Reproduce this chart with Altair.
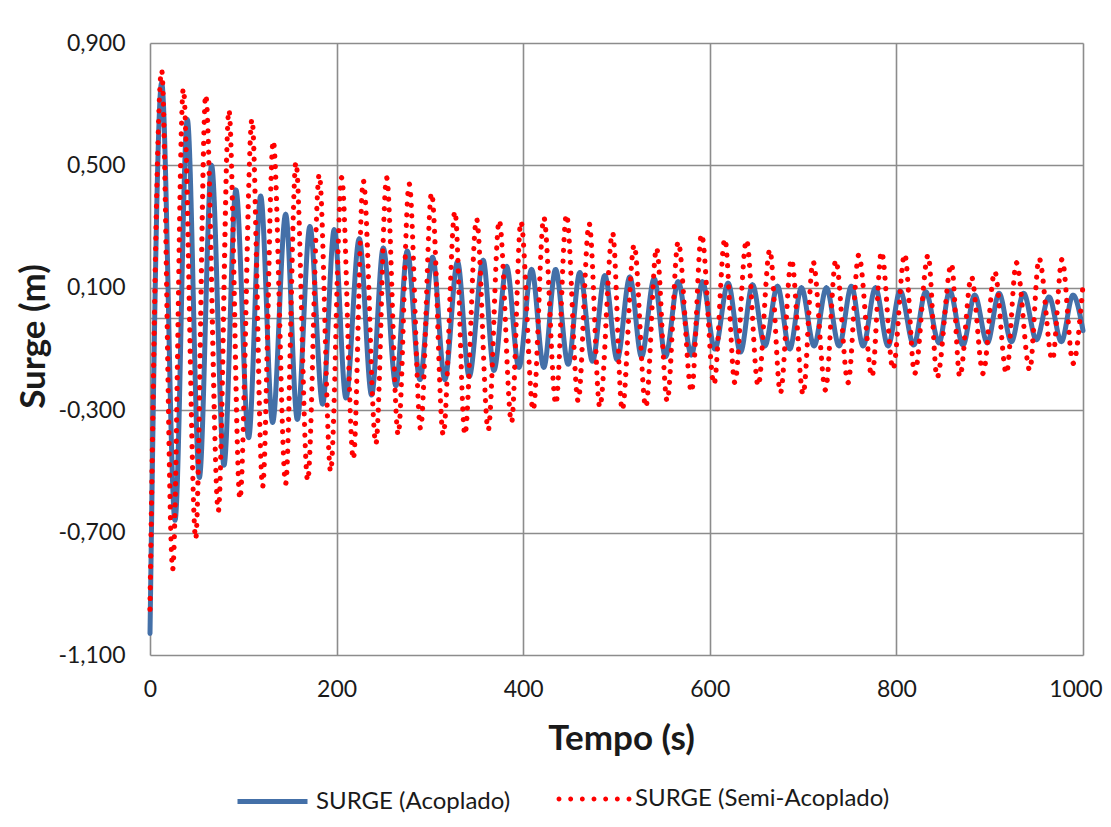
import altair as alt
import pandas as pd

# ---- data (local extrema of each series) ----
blue_t = [0, 12.5, 26.8, 40, 52.9, 66, 79.3, 92.1, 105.7, 118.6, 131.4, 145.4, 157.9, 171.4,
          185, 197.5, 210, 224.3, 237.5, 250, 263.6, 275.7, 289.3, 302.9, 316, 329.6, 342.1,
          357.1, 368.6, 382.2, 395.4, 409, 422.1, 434.7, 448.2, 460.7, 474.3, 487.5, 500.7,
          514.3, 526.8, 540.4, 552.5, 566.1, 580.4, 592.1, 605.4, 619.6, 632.9, 645.8, 659,
          672.5, 685.7, 698.2, 711.8, 725, 738.6, 751.8, 764.3, 777.5, 791.1, 804, 818.6,
          831.4, 845.7, 857.1, 871.4, 883.9, 897.5, 910, 923.2, 936.4, 950, 963.6, 976.8,
          989.3, 1000]
blue_v = [-1.03, 0.77, -0.66, 0.65, -0.52, 0.50, -0.48, 0.42, -0.39, 0.40, -0.34, 0.34, -0.33,
          0.30, -0.28, 0.29, -0.26, 0.26, -0.25, 0.23, -0.22, 0.22, -0.20, 0.20, -0.20, 0.185,
          -0.19, 0.19, -0.17, 0.17, -0.16, 0.16, -0.16, 0.16, -0.15, 0.15, -0.14, 0.14, -0.135,
          0.135, -0.125, 0.13, -0.125, 0.12, -0.12, 0.12, -0.10, 0.115, -0.11, 0.11, -0.09,
          0.105, -0.10, 0.10, -0.09, 0.10, -0.09, 0.105, -0.09, 0.10, -0.09, 0.09, -0.087,
          0.087, -0.08, 0.09, -0.087, 0.076, -0.08, 0.082, -0.076, 0.082, -0.07, 0.07, -0.076,
          0.076, -0.04]

red_t = [0, 12.5, 24.3, 35.7, 49, 59.7, 73.2, 84.6, 96.4, 109.3, 120.7, 132.1, 145.4, 156.4,
         169, 181.4, 193.6, 205.4, 217.9, 228.6, 242.1, 253.6, 266, 277.8, 290, 301.8, 314.3,
         326.8, 337.5, 350, 362.5, 374.3, 387.5, 397.5, 410.7, 422.1, 435, 446.4, 458.9, 470.7,
         482.1, 495.8, 506.1, 518.9, 531.4, 542.9, 554.3, 566.1, 580.4, 591.1, 604.5, 616.1,
         626.8, 639.3, 651.8, 664.3, 675.7, 687.5, 700, 710.7, 724, 735, 748.2, 759.6, 773.9,
         784, 796.4, 808.9, 819.6, 834, 843.6, 859, 867.9, 880.4, 892.9, 905.4, 917.9, 928.6,
         942.9, 952.9, 967.2, 977.5, 989.3, 1000]
red_v = [-0.95, 0.81, -0.82, 0.75, -0.72, 0.73, -0.63, 0.68, -0.59, 0.65, -0.55, 0.58, -0.54,
         0.51, -0.53, 0.47, -0.50, 0.46, -0.46, 0.45, -0.41, 0.46, -0.38, 0.44, -0.36, 0.41,
         -0.38, 0.35, -0.38, 0.325, -0.365, 0.32, -0.34, 0.316, -0.30, 0.33, -0.28, 0.34, -0.27,
         0.31, -0.29, 0.28, -0.30, 0.24, -0.29, 0.23, -0.27, 0.25, -0.24, 0.275, -0.215, 0.26,
         -0.21, 0.256, -0.22, 0.224, -0.243, 0.193, -0.248, 0.185, -0.234, 0.19, -0.21, 0.207,
         -0.19, 0.218, -0.166, 0.21, -0.18, 0.207, -0.193, 0.178, -0.19, 0.136, -0.18, 0.153,
         -0.18, 0.182, -0.169, 0.196, -0.136, 0.193, -0.147, 0.11]

series = ["SURGE (Acoplado)", "SURGE (Semi-Acoplado)"]
x_ticks = [0, 200, 400, 600, 800, 1000]
y_ticks = [-1.1, -0.7, -0.3, 0.0, 0.1, 0.5, 0.9]

df = pd.concat([
    pd.DataFrame({"t": blue_t, "v": blue_v, "serie": series[0]}),
    pd.DataFrame({"t": red_t, "v": red_v, "serie": series[1]}),
], ignore_index=True)

FONT = "Lato"
GRID = "#8c8c8c"
BLUE = "#4470A8"
RED = "#FF0000"
TXT = "#1a1a1a"

# legend symbol for the dotted series: a row of 7 small round dots (unit box -1..1)
r = 0.07
dots_path = "".join(
    f"M{-1 + k / 3 - r:.4f},0a{r},{r} 0 1,0 {2 * r},0a{r},{r} 0 1,0 {-2 * r},0Z"
    for k in range(7)
)

common_leg = dict(orient="none", direction="horizontal", symbolSize=4900,
                  labelFont=FONT, labelFontSize=24, labelColor=TXT, labelOffset=6,
                  padding=0, labelLimit=400)

x_enc = alt.X("t:Q", scale=alt.Scale(domain=[0, 1000], nice=False, zero=False),
              axis=alt.Axis(values=x_ticks, title="Tempo (s)", labelPadding=23,
                            labelExpr="format(datum.value, 'd')",
                            labelAlign={"condition": {"test": "datum.value == 1000", "value": "right"}, "value": "center"},
                            labelOffset={"condition": {"test": "datum.value == 1000", "value": 19}, "value": 0},
                            titlePadding=20, titleX=471))
y_enc = alt.Y("v:Q", scale=alt.Scale(domain=[-1.1, 0.9], nice=False, zero=False),
              axis=alt.Axis(values=y_ticks, title="Surge (m)", labelPadding=25,
                            labelExpr="datum.value == 0 ? '' : (datum.value < 0 ? '-' : '') + replace(format(abs(datum.value), '.3f'), '.', ',')",
                            titleAngle=270, titleX=-117, titleY=293,
                            titleAlign="center", titleBaseline="middle"))

base = alt.Chart(df)

lines = base.mark_line(
    interpolate="monotone", strokeCap="round", strokeJoin="round"
).encode(
    x=x_enc, y=y_enc,
    color=alt.Color("serie:N", scale=alt.Scale(domain=series, range=[BLUE, RED]), legend=None),
    strokeDash=alt.StrokeDash("serie:N", scale=alt.Scale(domain=series, range=[[1, 0], [0.1, 10.5]]),
                              legend=None),
    strokeWidth=alt.StrokeWidth("serie:O", scale=alt.Scale(domain=series, range=[5, 5.2]),
                                legend=None),
)

leg_blue = base.transform_filter("false").mark_line(strokeWidth=5).encode(
    x=x_enc, y=y_enc,
    stroke=alt.Stroke("serie:N", scale=alt.Scale(domain=[series[0]], range=[BLUE]), title=None,
                      legend=alt.Legend(legendX=85, legendY=721, symbolType="stroke",
                                        symbolStrokeWidth=5, **common_leg)),
)

leg_red = base.transform_filter("false").mark_point(filled=True, opacity=1).encode(
    x=x_enc, y=y_enc,
    fill=alt.Fill("serie:N", scale=alt.Scale(domain=[series[1]], range=[RED]), title=None,
                  legend=alt.Legend(legendX=409, legendY=721, symbolType=dots_path,
                                    symbolStrokeWidth=0, **common_leg)),
)

chart = alt.layer(lines, leg_blue, leg_red).properties(
    width=933, height=612,
    autosize=alt.AutoSizeParams(type="none"),
    padding={"left": 142, "top": 35, "right": 20, "bottom": 160},
    background="white",
).configure_axis(
    grid=True, gridColor=GRID, gridWidth=1.6, domain=False, ticks=False, tickSize=0,
    labelFont=FONT, labelFontSize=23, labelColor=TXT,
    titleFont=FONT, titleFontSize=35, titleFontWeight="bold", titleColor=TXT,
).configure_view(strokeWidth=0)

chart.save("out.html", embed_options={"renderer": "svg", "actions": False})
